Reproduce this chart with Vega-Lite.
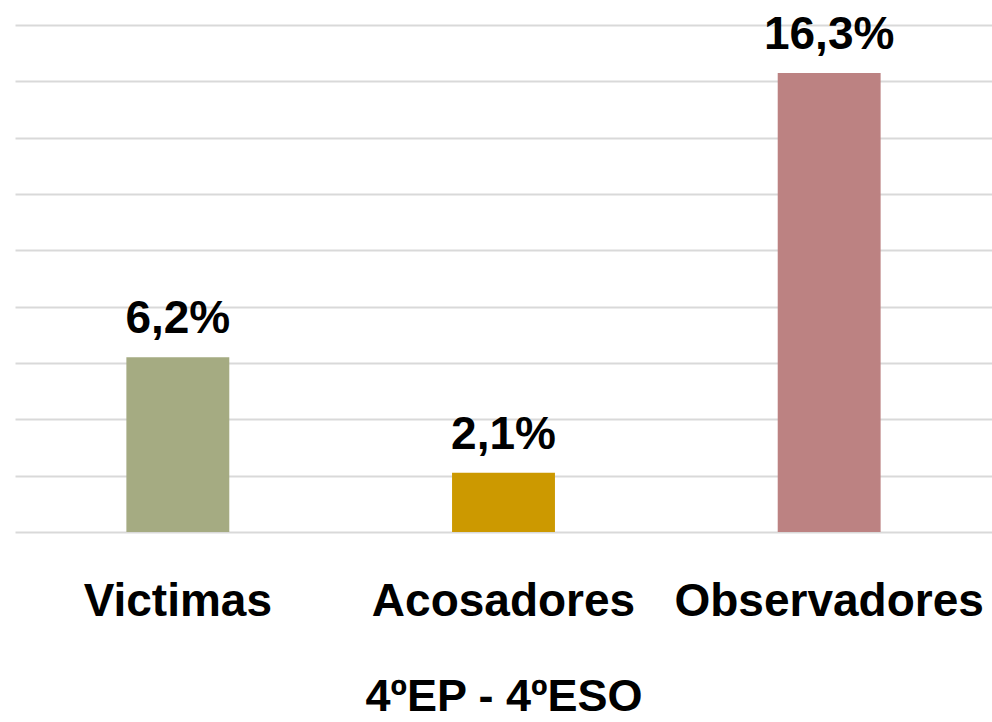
{
  "$schema": "https://vega.github.io/schema/vega-lite/v6.json",
  "width": 977,
  "height": 507,
  "padding": {"left": 15, "top": 25, "right": 0, "bottom": 190},
  "autosize": {"type": "none"},
  "background": "white",
  "config": {"view": {"stroke": null}, "font": "Liberation Sans"},
  "data": {"values": [
    {"grupo": "Victimas", "pct": 6.2, "label": "6,2%"},
    {"grupo": "Acosadores", "pct": 2.1, "label": "2,1%"},
    {"grupo": "Observadores", "pct": 16.3, "label": "16,3%"}
  ]},
  "encoding": {
    "x": {"field": "grupo", "type": "nominal", "sort": null,
      "scale": {"paddingInner": 0.684, "paddingOuter": 0.342},
      "axis": {"title": "4ºEP - 4ºESO", "labelAngle": 0, "labelLimit": 0, "labelOverlap": false, "labelFont": "Liberation Sans", "labelFontWeight": "bold", "labelFontSize": 46, "labelColor": "black", "labelPadding": 47, "ticks": false, "domain": false, "titleFont": "Liberation Sans", "titleFontSize": 45, "titleFontWeight": "bold", "titleColor": "black", "titlePadding": 50}},
    "y": {"field": "pct", "type": "quantitative",
      "scale": {"domain": [0, 18], "nice": false},
      "axis": {"values": [0, 2, 4, 6, 8, 10, 12, 14, 16, 18], "title": null, "labels": false, "ticks": false, "domain": false, "grid": true, "gridColor": "#D9D9D9", "gridWidth": 2}}
  },
  "layer": [
    {"mark": {"type": "bar"},
      "encoding": {"color": {"field": "grupo", "type": "nominal", "legend": null,
        "scale": {"domain": ["Victimas", "Acosadores", "Observadores"], "range": ["#A5AB82", "#CC9900", "#BC8282"]}}}},
    {"mark": {"type": "text", "baseline": "alphabetic", "dy": -24, "fontSize": 46, "fontWeight": "bold", "font": "Liberation Sans", "color": "black"},
      "encoding": {"text": {"field": "label"}}}
  ]
}
